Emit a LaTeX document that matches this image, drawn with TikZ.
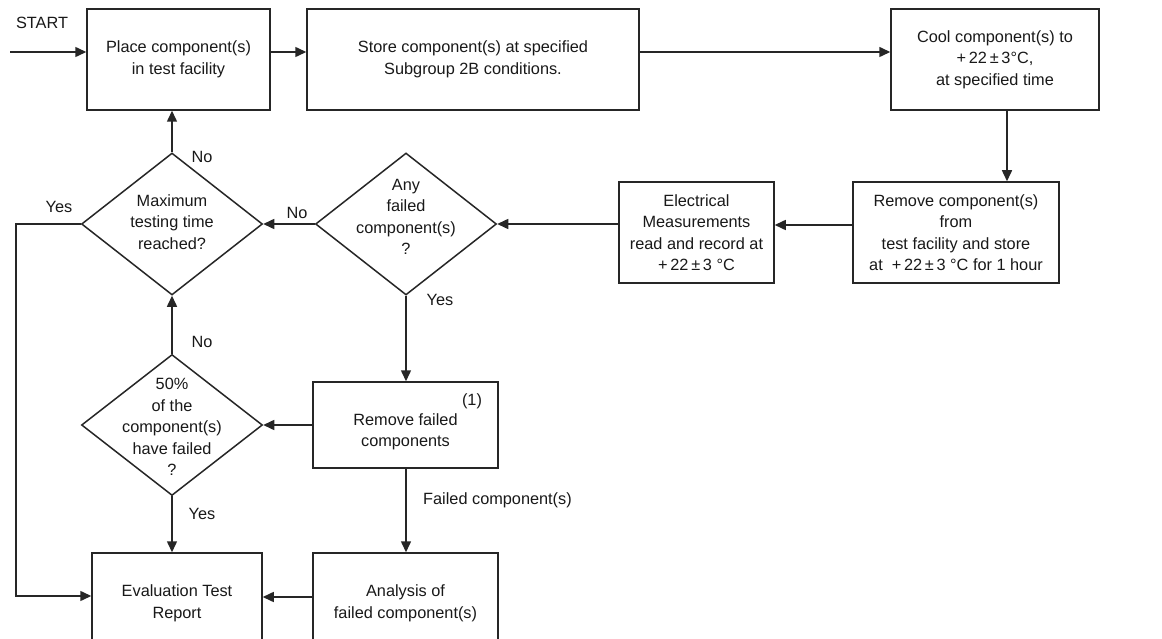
\documentclass[tikz,border=0pt]{standalone}
\usepackage{fontspec}
\setmainfont{Liberation Sans}
\usetikzlibrary{arrows.meta,shapes.geometric}
\begin{document}
\begin{tikzpicture}[x=1pt,y=-1pt,
  every node/.style={font=\fontsize{16.3}{21.5}\selectfont, text=black!90},
  box/.style={draw=black!85, line width=1.5pt, inner sep=0pt, align=center},
  dia/.style={draw=black!85, diamond, line width=1.5pt, inner sep=0pt, minimum width=181pt, minimum height=142pt},
  arr/.style={draw=black!85, line width=1.5pt, -{Triangle[length=11pt,width=10pt]}},
  lab/.style={inner sep=0pt, align=center}]
\useasboundingbox (0,0) rectangle (1162,639);
\clip (0,0) rectangle (1162,639);
\fill[white] (0,0) rectangle (1162,639);
% boxes
\node[box, minimum width=183pt, minimum height=101pt] (place) at (178.5,59.5) {Place component(s)\\in test facility};
\node[box, minimum width=332pt, minimum height=101pt] (store) at (473,59.5) {Store component(s) at specified\\Subgroup 2B conditions.};
\node[box, minimum width=208pt, minimum height=101pt] (cool) at (995,59.5) {Cool component(s) to\\+\,22\,±\,3°C,\\at specified time};
\node[box, minimum width=206pt, minimum height=101pt] (remove) at (956,232.5) {Remove component(s)\\from\\test facility and store\\at \ +\,22\,±\,3 °C for 1 hour};
\node[box, minimum width=155pt, minimum height=101pt] (elec) at (696.5,232.5) {Electrical\\Measurements\\read and record at\\+\,22\,±\,3 °C};
\node[dia] (any) at (406,224) {};
\node[lab] (anyt) at (406,217) {Any\\failed\\component(s)\\?};
\node[dia] (max) at (172,224) {};
\node[lab] (maxt) at (172,222) {Maximum\\testing time\\reached?};
\node[dia, minimum height=141pt] (fifty) at (172,425) {};
\node[lab] (fiftyt) at (172,427) {50\%\\of the\\component(s)\\have failed\\?};
\node[box, minimum width=185pt, minimum height=86pt] (remf) at (405.5,425) {};
\node[lab] (remft) at (405.5,432) {Remove failed\\components};
\node[lab] (one) at (472,401) {(1)};
\node[box, minimum width=170pt, minimum height=101pt] (eval) at (177,603.5) {Evaluation Test\\Report};
\node[box, minimum width=185pt, minimum height=101pt] (anal) at (405.5,603.5) {Analysis of\\failed component(s)};
% labels
\node[lab] (startlab) at (42,23) {START};
\node[lab] (no1) at (202,157) {No};
\node[lab] (no2) at (297,213) {No};
\node[lab] (yes1) at (59,207) {Yes};
\node[lab] (no3) at (202,342) {No};
\node[lab] (yes2) at (202,514) {Yes};
\node[lab] (yes3) at (440,300) {Yes};
\node[lab, anchor=west] (failed) at (423,500) {Failed component(s)};
% connectors
\coordinate (rowA) at (0,52);
\coordinate (startpt) at (10,52);
\coordinate (colx) at (1007,0);
\coordinate (rowB) at (0,225);
\coordinate (leftx) at (16,596);
\coordinate (rowC) at (0,597);
\draw[arr] (startpt) -- (startpt -| place.west);
\draw[arr] (place.east |- rowA) -- (store.west |- rowA);
\draw[arr] (store.east |- rowA) -- (cool.west |- rowA);
\draw[arr] (cool.south -| colx) -- (remove.north -| colx);
\draw[arr] (remove.west |- rowB) -- (elec.east |- rowB);
\draw[arr] (elec.west |- any.east) -- (any.east);
\draw[arr] (any.west) -- (max.east);
\draw[arr] (max.north) -- (max.north |- place.south);
\draw[arr] (max.west) -| (leftx) -- (leftx -| eval.west);
\draw[arr] (any.south) -- (any.south |- remf.north);
\draw[arr] (remf.west |- fifty.east) -- (fifty.east);
\draw[arr] (fifty.north) -- (max.south);
\draw[arr] (fifty.south) -- (fifty.south |- eval.north);
\draw[arr] (remf.south -| any.south) -- (anal.north -| any.south);
\draw[arr] (anal.west |- rowC) -- (eval.east |- rowC);
\end{tikzpicture}
\end{document}
